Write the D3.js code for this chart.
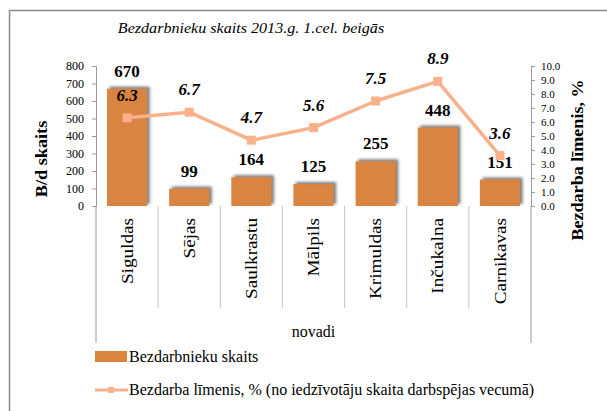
<!DOCTYPE html>
<html>
<head>
<meta charset="utf-8">
<script src="https://cdn.jsdelivr.net/npm/d3@7"></script>
</head>
<body style="margin:0;padding:0;background:#ffffff">
<script>
// Unemployed persons by municipality, end of Q1 2013
const categories = ["Siguldas", "Sējas", "Saulkrastu", "Mālpils", "Krimuldas", "Inčukalna", "Carnikavas"];
const unemployedCount = [670, 99, 164, 125, 255, 448, 151];
const unemploymentRate = [6.3, 6.7, 4.7, 5.6, 7.5, 8.9, 3.6];
const countTicks = [0, 100, 200, 300, 400, 500, 600, 700, 800];
const rateTicks = [0, 1, 2, 3, 4, 5, 6, 7, 8, 9, 10];

const titleText = "Bezdarbnieku skaits 2013.g. 1.cel. beigās";
const leftAxisTitle = "B/d skaits";
const rightAxisTitle = "Bezdarba līmenis, %";
const xAxisTitle = "novadi";
const barSeriesName = "Bezdarbnieku skaits";
const lineSeriesName = "Bezdarba līmenis, % (no iedzīvotāju skaita darbspējas vecumā)";

const W = 607, H = 411;
const plot = { left: 96, right: 531, top: 66, bottom: 206 };
const FONT = "\"Liberation Serif\"";
const barColor = "#D9843F";
const lineColor = "#F8B18B";
const axisColor = "#9a9a9a";
const sepColor = "#c4c4c4";

const svg = d3.select("body").append("svg").attr("width", W).attr("height", H)
  .style("display", "block");

// soft shadow behind the bars
const defs = svg.append("defs");
const f = defs.append("filter").attr("id", "barShadow")
  .attr("x", "-30%").attr("y", "-30%").attr("width", "160%").attr("height", "160%");
f.append("feDropShadow").attr("dx", 2.5).attr("dy", -2).attr("stdDeviation", 1.8)
  .attr("flood-color", "#4a4a4a").attr("flood-opacity", 0.75);

// outer frame
svg.append("rect").attr("x", 9.5).attr("y", 10.5).attr("width", 640).attr("height", 440)
  .attr("fill", "none").attr("stroke", "#8c8c8c").attr("stroke-width", 1.5);

const x = d3.scaleBand().domain(categories).range([plot.left, plot.right]);
const yL = d3.scaleLinear().domain([0, 800]).range([plot.bottom, plot.top]);
const yR = d3.scaleLinear().domain([0, 10]).range([plot.bottom, plot.top]);
const bw = x.bandwidth();
const barW = bw * 0.645;

function txt(sel) {
  return sel.style("font-family", FONT).attr("fill", "#000");
}

// title
txt(svg.append("text"))
  .attr("transform", `translate(251,33) scale(1.15,1)`)
  .attr("text-anchor", "middle")
  .attr("font-size", 14).attr("font-style", "italic")
  .text(titleText);

// left axis
const gL = svg.append("g").attr("transform", `translate(${plot.left},0)`)
  .call(d3.axisLeft(yL).tickValues(countTicks).tickSize(4).tickPadding(8).tickFormat(d3.format("d")));
gL.attr("font-family", null);
gL.selectAll("path, line").attr("stroke", axisColor);
txt(gL.selectAll("text")).attr("font-size", 12);

// right axis
const gR = svg.append("g").attr("transform", `translate(${plot.right},0)`)
  .call(d3.axisRight(yR).tickValues(rateTicks).tickSize(4).tickPadding(6).tickFormat(d3.format(".1f")));
gR.attr("font-family", null);
gR.selectAll("path, line").attr("stroke", axisColor);
txt(gR.selectAll("text")).attr("font-size", 11);

// category separators and outer extensions below the plot
const bounds = categories.map(c => x(c)).concat([plot.right]);
svg.append("g").selectAll("line").data(bounds).join("line")
  .attr("x1", d => d).attr("x2", d => d)
  .attr("y1", plot.bottom)
  .attr("y2", (d, i) => (i === 0 || i === bounds.length - 1) ? 343 : 308)
  .attr("stroke", (d, i) => (i === 0 || i === bounds.length - 1) ? axisColor : sepColor)
  .attr("stroke-width", 1);

// bars
svg.append("g").selectAll("rect").data(categories).join("rect")
  .attr("x", c => x(c) + (bw - barW) / 2)
  .attr("y", (c, i) => yL(unemployedCount[i]))
  .attr("width", barW)
  .attr("height", (c, i) => plot.bottom - yL(unemployedCount[i]))
  .attr("fill", barColor)
  .attr("filter", "url(#barShadow)");

// bar value labels
txt(svg.append("g").selectAll("text").data(categories).join("text"))
  .attr("x", c => x(c) + bw / 2)
  .attr("y", (c, i) => yL(unemployedCount[i]) - 12)
  .attr("text-anchor", "middle")
  .attr("font-size", 17).attr("font-weight", "bold")
  .text((c, i) => unemployedCount[i]);

// rate line
const line = d3.line().x(c => x(c) + bw / 2).y((c, i) => yR(unemploymentRate[i]));
svg.append("path").datum(categories)
  .attr("d", line)
  .attr("fill", "none").attr("stroke", lineColor).attr("stroke-width", 3.5)
  .attr("stroke-linejoin", "round");

const ms = 9;
svg.append("g").selectAll("rect").data(categories).join("rect")
  .attr("x", c => x(c) + bw / 2 - ms / 2)
  .attr("y", (c, i) => yR(unemploymentRate[i]) - ms / 2)
  .attr("width", ms).attr("height", ms)
  .attr("fill", lineColor);

// rate labels
txt(svg.append("g").selectAll("text").data(categories).join("text"))
  .attr("x", c => x(c) + bw / 2)
  .attr("y", (c, i) => yR(unemploymentRate[i]) - 17)
  .attr("text-anchor", "middle")
  .attr("font-size", 17).attr("font-weight", "bold").attr("font-style", "italic")
  .text((c, i) => d3.format(".1f")(unemploymentRate[i]));

// category labels (rotated)
txt(svg.append("g").selectAll("text").data(categories).join("text"))
  .attr("transform", c => `translate(${x(c) + bw / 2},218) rotate(-90) scale(1.2,1)`)
  .attr("text-anchor", "end")
  .attr("dy", "0.35em")
  .attr("font-size", 16)
  .text(c => c);

// x axis title
txt(svg.append("text"))
  .attr("x", (plot.left + plot.right) / 2).attr("y", 337)
  .attr("text-anchor", "middle").attr("font-size", 16)
  .text(xAxisTitle);

// y axis titles
txt(svg.append("text"))
  .attr("transform", `translate(41,159) rotate(-90) scale(1.14,1)`)
  .attr("text-anchor", "middle").attr("dy", "0.35em")
  .attr("font-size", 16).attr("font-weight", "bold")
  .text(leftAxisTitle);

txt(svg.append("text"))
  .attr("transform", `translate(577,160) rotate(-90) scale(1.13,1)`)
  .attr("text-anchor", "middle").attr("dy", "0.35em")
  .attr("font-size", 16).attr("font-weight", "bold")
  .text(rightAxisTitle);

// legend
const lg = svg.append("g");
lg.append("rect").attr("x", 95).attr("y", 351).attr("width", 32).attr("height", 11).attr("fill", barColor);
txt(lg.append("text")).attr("x", 129).attr("y", 362).attr("font-size", 16).text(barSeriesName);

lg.append("line").attr("x1", 95).attr("x2", 128).attr("y1", 390).attr("y2", 390)
  .attr("stroke", lineColor).attr("stroke-width", 3);
lg.append("rect").attr("x", 108).attr("y", 387).attr("width", 6).attr("height", 6).attr("fill", lineColor);
txt(lg.append("text")).attr("x", 129).attr("y", 395).attr("font-size", 16).text(lineSeriesName);
</script>
</body>
</html>
